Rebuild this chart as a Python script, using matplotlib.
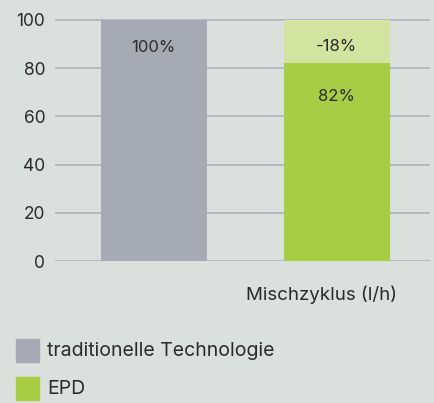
import matplotlib
matplotlib.use("Agg")
import matplotlib.pyplot as plt
from matplotlib.patches import Rectangle

plt.rcParams['font.family'] = ['Inter', 'DejaVu Sans']

categories = ["traditionelle Technologie", "EPD"]
base_values = [100, 82]
reduction_values = [0, 18]
base_labels = ["100%", "82%"]
reduction_labels = ["", "-18%"]
y_ticks = [0, 20, 40, 60, 80, 100]
x_title = "Mischzyklus (l/h)"

bg = "#dae0dc"
grey = "#a5abb4"
green = "#a6cd43"
light_green = "#d1e5a0"
txt = "#2b2b2b"
grid_c = "#a9adb9"

W, H = 435, 403
fig = plt.figure(figsize=(W / 100, H / 100), dpi=100, facecolor=bg)
ymax = 101
ax = fig.add_axes([55 / W, 142 / H, 375 / W, 241 * ymax / 100 / H])
ax.set_facecolor(bg)

x = [0, 1]
colors = [grey, green]
ax.set_axisbelow(True)
for yt in y_ticks:
    ax.axhline(yt, color=grid_c, lw=1.1, zorder=0)
ax.bar(x, base_values, width=0.58, color=colors, zorder=2)
ax.bar(x, reduction_values, bottom=base_values, width=0.58, color=light_green, zorder=2)

base_offsets = [-19.5, -23.5]
for xi, b, r, bl, rl, off in zip(x, base_values, reduction_values, base_labels, reduction_labels, base_offsets):
    ax.annotate(bl, (xi, b), xytext=(0, off), textcoords="offset points",
                ha="center", va="center", fontsize=12, color=txt)
    if r:
        ax.annotate(rl, (xi, b + r), xytext=(0, -19), textcoords="offset points",
                    ha="center", va="center", fontsize=12, color=txt)

ax.set_xlim(-0.54, 1.51)
ax.set_ylim(0, ymax)
ax.set_yticks(y_ticks)
ax.tick_params(axis="y", length=0, pad=7, labelsize=12.5, labelcolor=txt)
ax.set_xticks([])
for s in ax.spines.values():
    s.set_visible(False)

fig.text(321 / W, 1 - 295 / H, x_title, ha="center", va="center", fontsize=13.5, color=txt)

# legend
for i, (cat, col) in enumerate(zip(categories, colors)):
    top = 339 + i * 38
    fig.patches.append(Rectangle((16 / W, 1 - (top + 23) / H), 23 / W, 23 / H,
                                 transform=fig.transFigure, color=col, figure=fig))
    fig.text(47 / W, 1 - (top + 12) / H, cat, ha="left", va="center", fontsize=14, color=txt)

fig.savefig("out.png", dpi=100, facecolor=bg)
